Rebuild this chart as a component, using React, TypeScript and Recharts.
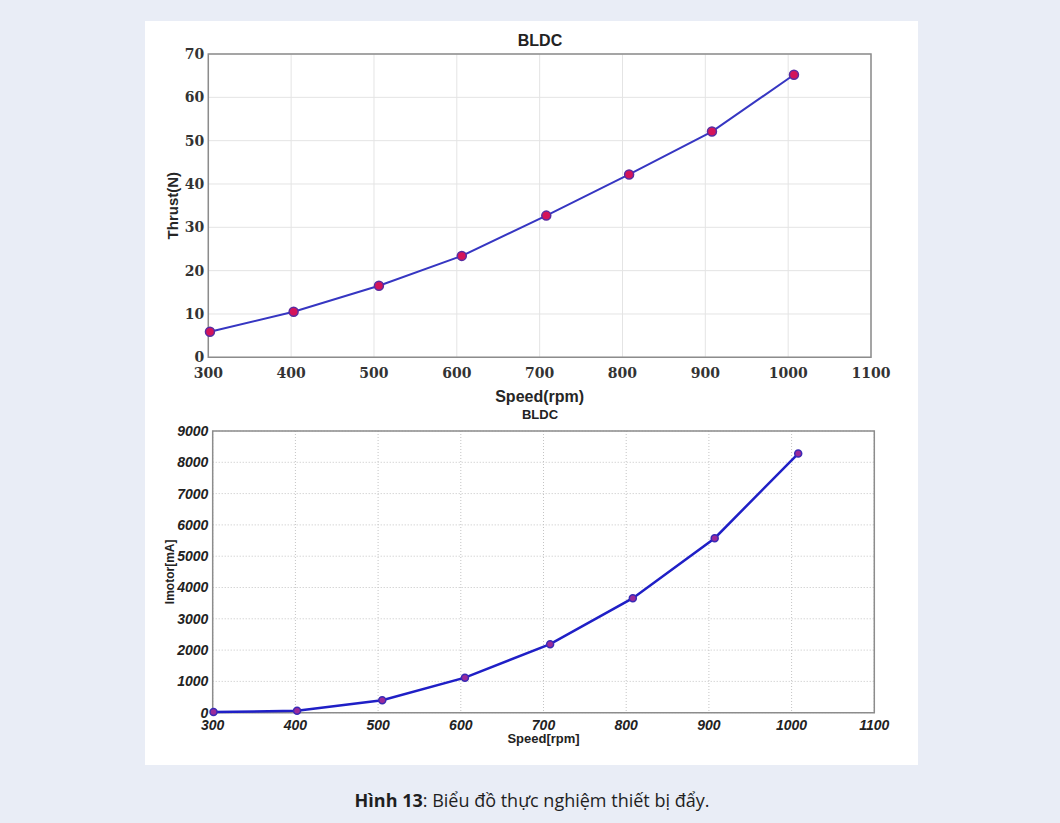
import React from 'react';
import { CartesianGrid, Line, LineChart, ReferenceArea, XAxis, YAxis } from 'recharts';

// thrust test (top)
const thrustSpeed = [302, 403, 506, 606, 708, 808, 908, 1007];
const thrustValues = [5.9, 10.5, 16.5, 23.4, 32.7, 42.2, 52.1, 65.2];
const thrustTicks = [0, 10, 20, 30, 40, 50, 60, 70];

// motor current test (bottom)
const currentSpeed = [301, 402, 505, 605, 708, 808, 907, 1008];
const currentValues = [20, 60, 400, 1120, 2190, 3660, 5575, 8280];
const currentTicks = [0, 1000, 2000, 3000, 4000, 5000, 6000, 7000, 8000, 9000];

const speedTicks = [300, 400, 500, 600, 700, 800, 900, 1000, 1100];

const thrustData = thrustSpeed.map((speed, i) => ({ speed, thrust: thrustValues[i] }));
const currentData = currentSpeed.map((speed, i) => ({ speed, current: currentValues[i] }));

const serifTick = { fontFamily: 'DejaVu Serif', fontWeight: 700, fontSize: 14, fill: '#333' };
const italicTick = { fontFamily: 'Liberation Sans', fontWeight: 700, fontStyle: 'italic', fontSize: 14, fill: '#222' };
const sans = 'Liberation Sans, Arial, sans-serif';

const App = () => {
    return (
        <div style={{ position: 'absolute', left: 0, top: 0, width: 1060, height: 823, background: '#e9edf6' }}>
            <div style={{ position: 'absolute', left: 145, top: 21, width: 773, height: 744, background: '#fff' }} />

            <div style={{ position: 'absolute', left: 440, top: 32, width: 200, textAlign: 'center', fontFamily: sans, fontWeight: 700, fontSize: 16, lineHeight: '18px', color: '#222' }}>
                BLDC
            </div>
            <div style={{ position: 'absolute', left: 145, top: 21 }}>
                <LineChart width={773} height={385} data={thrustData} margin={{ top: 33, right: 47, bottom: 0, left: 0 }}>
                    <CartesianGrid stroke="#e4e4e4" />
                    <XAxis
                        type="number"
                        dataKey="speed"
                        domain={[300, 1100]}
                        ticks={speedTicks}
                        interval={0}
                        height={48.7}
                        axisLine={false}
                        tickLine={false}
                        tickSize={0}
                        tickMargin={11}
                        tick={serifTick}
                        label={{ value: 'Speed(rpm)', position: 'insideBottom', offset: 4, style: { fontFamily: sans, fontWeight: 700, fontSize: 16, fill: '#262626' } }}
                    />
                    <YAxis
                        type="number"
                        domain={[0, 70]}
                        ticks={thrustTicks}
                        interval={0}
                        width={63.3}
                        axisLine={false}
                        tickLine={false}
                        tickSize={0}
                        tickMargin={4}
                        tick={serifTick}
                        label={{ value: 'Thrust(N)', angle: -90, position: 'insideLeft', offset: 28, style: { textAnchor: 'middle', fontFamily: sans, fontWeight: 700, fontSize: 15, fill: '#262626' } }}
                    />
                    <ReferenceArea x1={300} x2={1100} y1={0} y2={70} fill="none" stroke="#8c8c8c" strokeWidth={1.5} />
                    <Line
                        type="linear"
                        dataKey="thrust"
                        stroke="#3636c2"
                        strokeWidth={2}
                        dot={{ r: 4.5, fill: '#d4145a', stroke: '#5a2ca0', strokeWidth: 1.5 }}
                        isAnimationActive={false}
                    />
                </LineChart>
            </div>

            <div style={{ position: 'absolute', left: 440, top: 407, width: 200, textAlign: 'center', fontFamily: sans, fontWeight: 700, fontSize: 13, lineHeight: '16px', color: '#222' }}>
                BLDC
            </div>
            <div style={{ position: 'absolute', left: 145, top: 406 }}>
                <LineChart width={773} height={359} data={currentData} margin={{ top: 25, right: 43.7, bottom: 0, left: 0 }}>
                    <CartesianGrid stroke="#c4c4c4" strokeDasharray="1 2" />
                    <XAxis
                        type="number"
                        dataKey="speed"
                        domain={[300, 1100]}
                        ticks={speedTicks}
                        interval={0}
                        height={52.3}
                        axisLine={false}
                        tickLine={false}
                        tickSize={0}
                        tickMargin={7.5}
                        tick={italicTick}
                        label={{ value: 'Speed[rpm]', position: 'insideBottom', offset: 22, style: { fontFamily: sans, fontWeight: 700, fontSize: 13, fill: '#222' } }}
                    />
                    <YAxis
                        type="number"
                        domain={[0, 9000]}
                        ticks={currentTicks}
                        interval={0}
                        width={67.7}
                        axisLine={false}
                        tickLine={false}
                        tickSize={0}
                        tickMargin={4.4}
                        tick={italicTick}
                        label={{ value: 'Imotor[mA]', angle: -90, position: 'insideLeft', offset: 25, style: { textAnchor: 'middle', fontFamily: sans, fontWeight: 700, fontSize: 12, fill: '#222' } }}
                    />
                    <ReferenceArea x1={300} x2={1100} y1={0} y2={9000} fill="none" stroke="#8c8c8c" strokeWidth={1.5} />
                    <Line
                        type="linear"
                        dataKey="current"
                        stroke="#1f1fc6"
                        strokeWidth={2.5}
                        dot={{ r: 3.5, fill: '#9a2a9a', stroke: '#3a2ab5', strokeWidth: 1.5 }}
                        isAnimationActive={false}
                    />
                </LineChart>
            </div>

            <div style={{ position: 'absolute', left: 0, top: 788, width: 1064, textAlign: 'center', fontFamily: 'Open Sans, Noto Sans, sans-serif', fontSize: 18, lineHeight: '24px', color: '#1f1f1f' }}>
                <b>Hình 13</b>: Biểu đồ thực nghiệm thiết bị đẩy.
            </div>
        </div>
    );
};

export default App;
